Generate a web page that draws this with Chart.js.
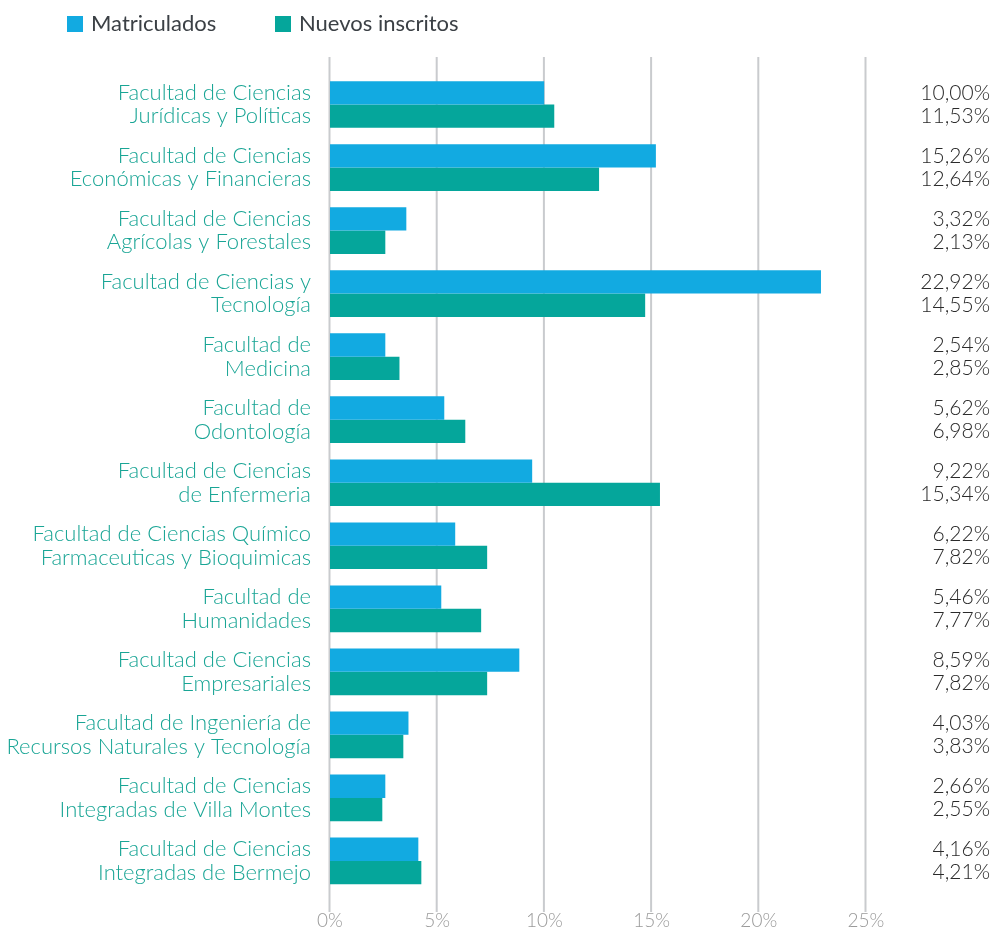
<!DOCTYPE html>
<html><head><meta charset="utf-8">
<script src="https://cdn.jsdelivr.net/npm/chart.js@4/dist/chart.umd.min.js"></script>
<style>html,body{margin:0;padding:0;background:#fff}#wrap{position:relative;width:993px;height:935px}</style>
</head><body><div id="wrap"><canvas id="c" width="993" height="935"></canvas></div>
<script>
const categories = [
  ["Facultad de Ciencias", "Jurídicas y Políticas"],
  ["Facultad de Ciencias", "Económicas y Financieras"],
  ["Facultad de Ciencias", "Agrícolas y Forestales"],
  ["Facultad de Ciencias y", "Tecnología"],
  ["Facultad de", "Medicina"],
  ["Facultad de", "Odontología"],
  ["Facultad de Ciencias", "de Enfermeria"],
  ["Facultad de Ciencias Químico", "Farmaceuticas y Bioquimicas"],
  ["Facultad de", "Humanidades"],
  ["Facultad de Ciencias", "Empresariales"],
  ["Facultad de Ingeniería de", "Recursos Naturales y Tecnología"],
  ["Facultad de Ciencias", "Integradas de Villa Montes"],
  ["Facultad de Ciencias", "Integradas de Bermejo"]
];
const seriesNames = ["Matriculados", "Nuevos inscritos"];
// bar lengths as drawn in the picture (%)
const matriculados = [9.99, 15.20, 3.56, 22.90, 2.58, 5.33, 9.43, 5.84, 5.19, 8.83, 3.66, 2.58, 4.12];
const nuevosInscritos = [10.46, 12.55, 2.58, 14.70, 3.24, 6.31, 15.39, 7.33, 7.05, 7.33, 3.42, 2.44, 4.26];
// printed value labels on the right
const matriculadosLabels = ["10,00%", "15,26%", "3,32%", "22,92%", "2,54%", "5,62%", "9,22%", "6,22%", "5,46%", "8,59%", "4,03%", "2,66%", "4,16%"];
const nuevosInscritosLabels = ["11,53%", "12,64%", "2,13%", "14,55%", "2,85%", "6,98%", "15,34%", "7,82%", "7,77%", "7,82%", "3,83%", "2,55%", "4,21%"];
const xTicks = [0, 5, 10, 15, 20, 25];

const colors = ["#12aae1", "#05a69b"];
const valueLabelSets = [matriculadosLabels, nuevosInscritosLabels];

const gridPlugin = {
  id: 'fullGrid',
  beforeDatasetsDraw(chart) {
    const ctx = chart.ctx, xs = chart.scales.x;
    ctx.save();
    ctx.strokeStyle = '#c9cbce';
    ctx.lineWidth = 2;
    xTicks.forEach(v => {
      const x = xs.getPixelForValue(v) - 0.5;
      ctx.beginPath();
      ctx.moveTo(x, 57);
      ctx.lineTo(x, 912);
      ctx.stroke();
    });
    ctx.restore();
  }
};

const valuePlugin = {
  id: 'valueLabels',
  afterDatasetsDraw(chart) {
    const ctx = chart.ctx;
    ctx.save();
    ctx.font = '300 21px Lato';
    ctx.fillStyle = '#2a2a2a';
    ctx.textAlign = 'right';
    ctx.textBaseline = 'middle';
    chart.data.datasets.forEach((ds, i) => {
      const meta = chart.getDatasetMeta(i);
      meta.data.forEach((el, j) => {
        ctx.fillText(valueLabelSets[i][j], 990, el.y);
      });
    });
    ctx.restore();
  }
};

const legendPlugin = {
  id: 'customLegend',
  afterDraw(chart) {
    const ctx = chart.ctx;
    const xs = [67, 275];
    ctx.save();
    ctx.font = '400 22px Lato';
    ctx.textBaseline = 'middle';
    ctx.textAlign = 'left';
    chart.data.datasets.forEach((ds, i) => {
      ctx.fillStyle = ds.backgroundColor;
      ctx.fillRect(xs[i], 16, 16, 16);
      ctx.fillStyle = '#3b4045';
      ctx.fillText(ds.label, xs[i] + 24, 24);
    });
    ctx.restore();
  }
};

new Chart(document.getElementById('c'), {
  type: 'bar',
  data: {
    labels: categories,
    datasets: [
      { label: seriesNames[0], data: matriculados, backgroundColor: colors[0], borderWidth: 0, barPercentage: 1, categoryPercentage: 0.741 },
      { label: seriesNames[1], data: nuevosInscritos, backgroundColor: colors[1], borderWidth: 0, barPercentage: 1, categoryPercentage: 0.741 }
    ]
  },
  options: {
    indexAxis: 'y',
    responsive: false,
    animation: false,
    devicePixelRatio: 1,
    layout: { padding: { top: 73, right: 127, bottom: 0, left: 0 } },
    plugins: { legend: { display: false }, tooltip: { enabled: false } },
    scales: {
      x: {
        min: 0, max: 25,
        afterBuildTicks(scale) { scale.ticks = xTicks.map(v => ({ value: v })); },
        afterFit(scale) { scale.height = 38; },
        grid: { display: false, drawTicks: false },
        border: { display: false },
        ticks: { padding: 17, color: '#9a9a9a', font: { family: 'Lato', size: 19, weight: '300' }, callback: v => v + '%' }
      },
      y: {
        afterFit(scale) { scale.width = 330; },
        grid: { display: false, drawTicks: false },
        border: { display: false },
        ticks: { padding: 19, color: '#19a595', font: { family: 'Lato', size: 22, weight: '300', lineHeight: 1.07 } }
      }
    }
  },
  plugins: [gridPlugin, valuePlugin, legendPlugin]
});
</script></body></html>
